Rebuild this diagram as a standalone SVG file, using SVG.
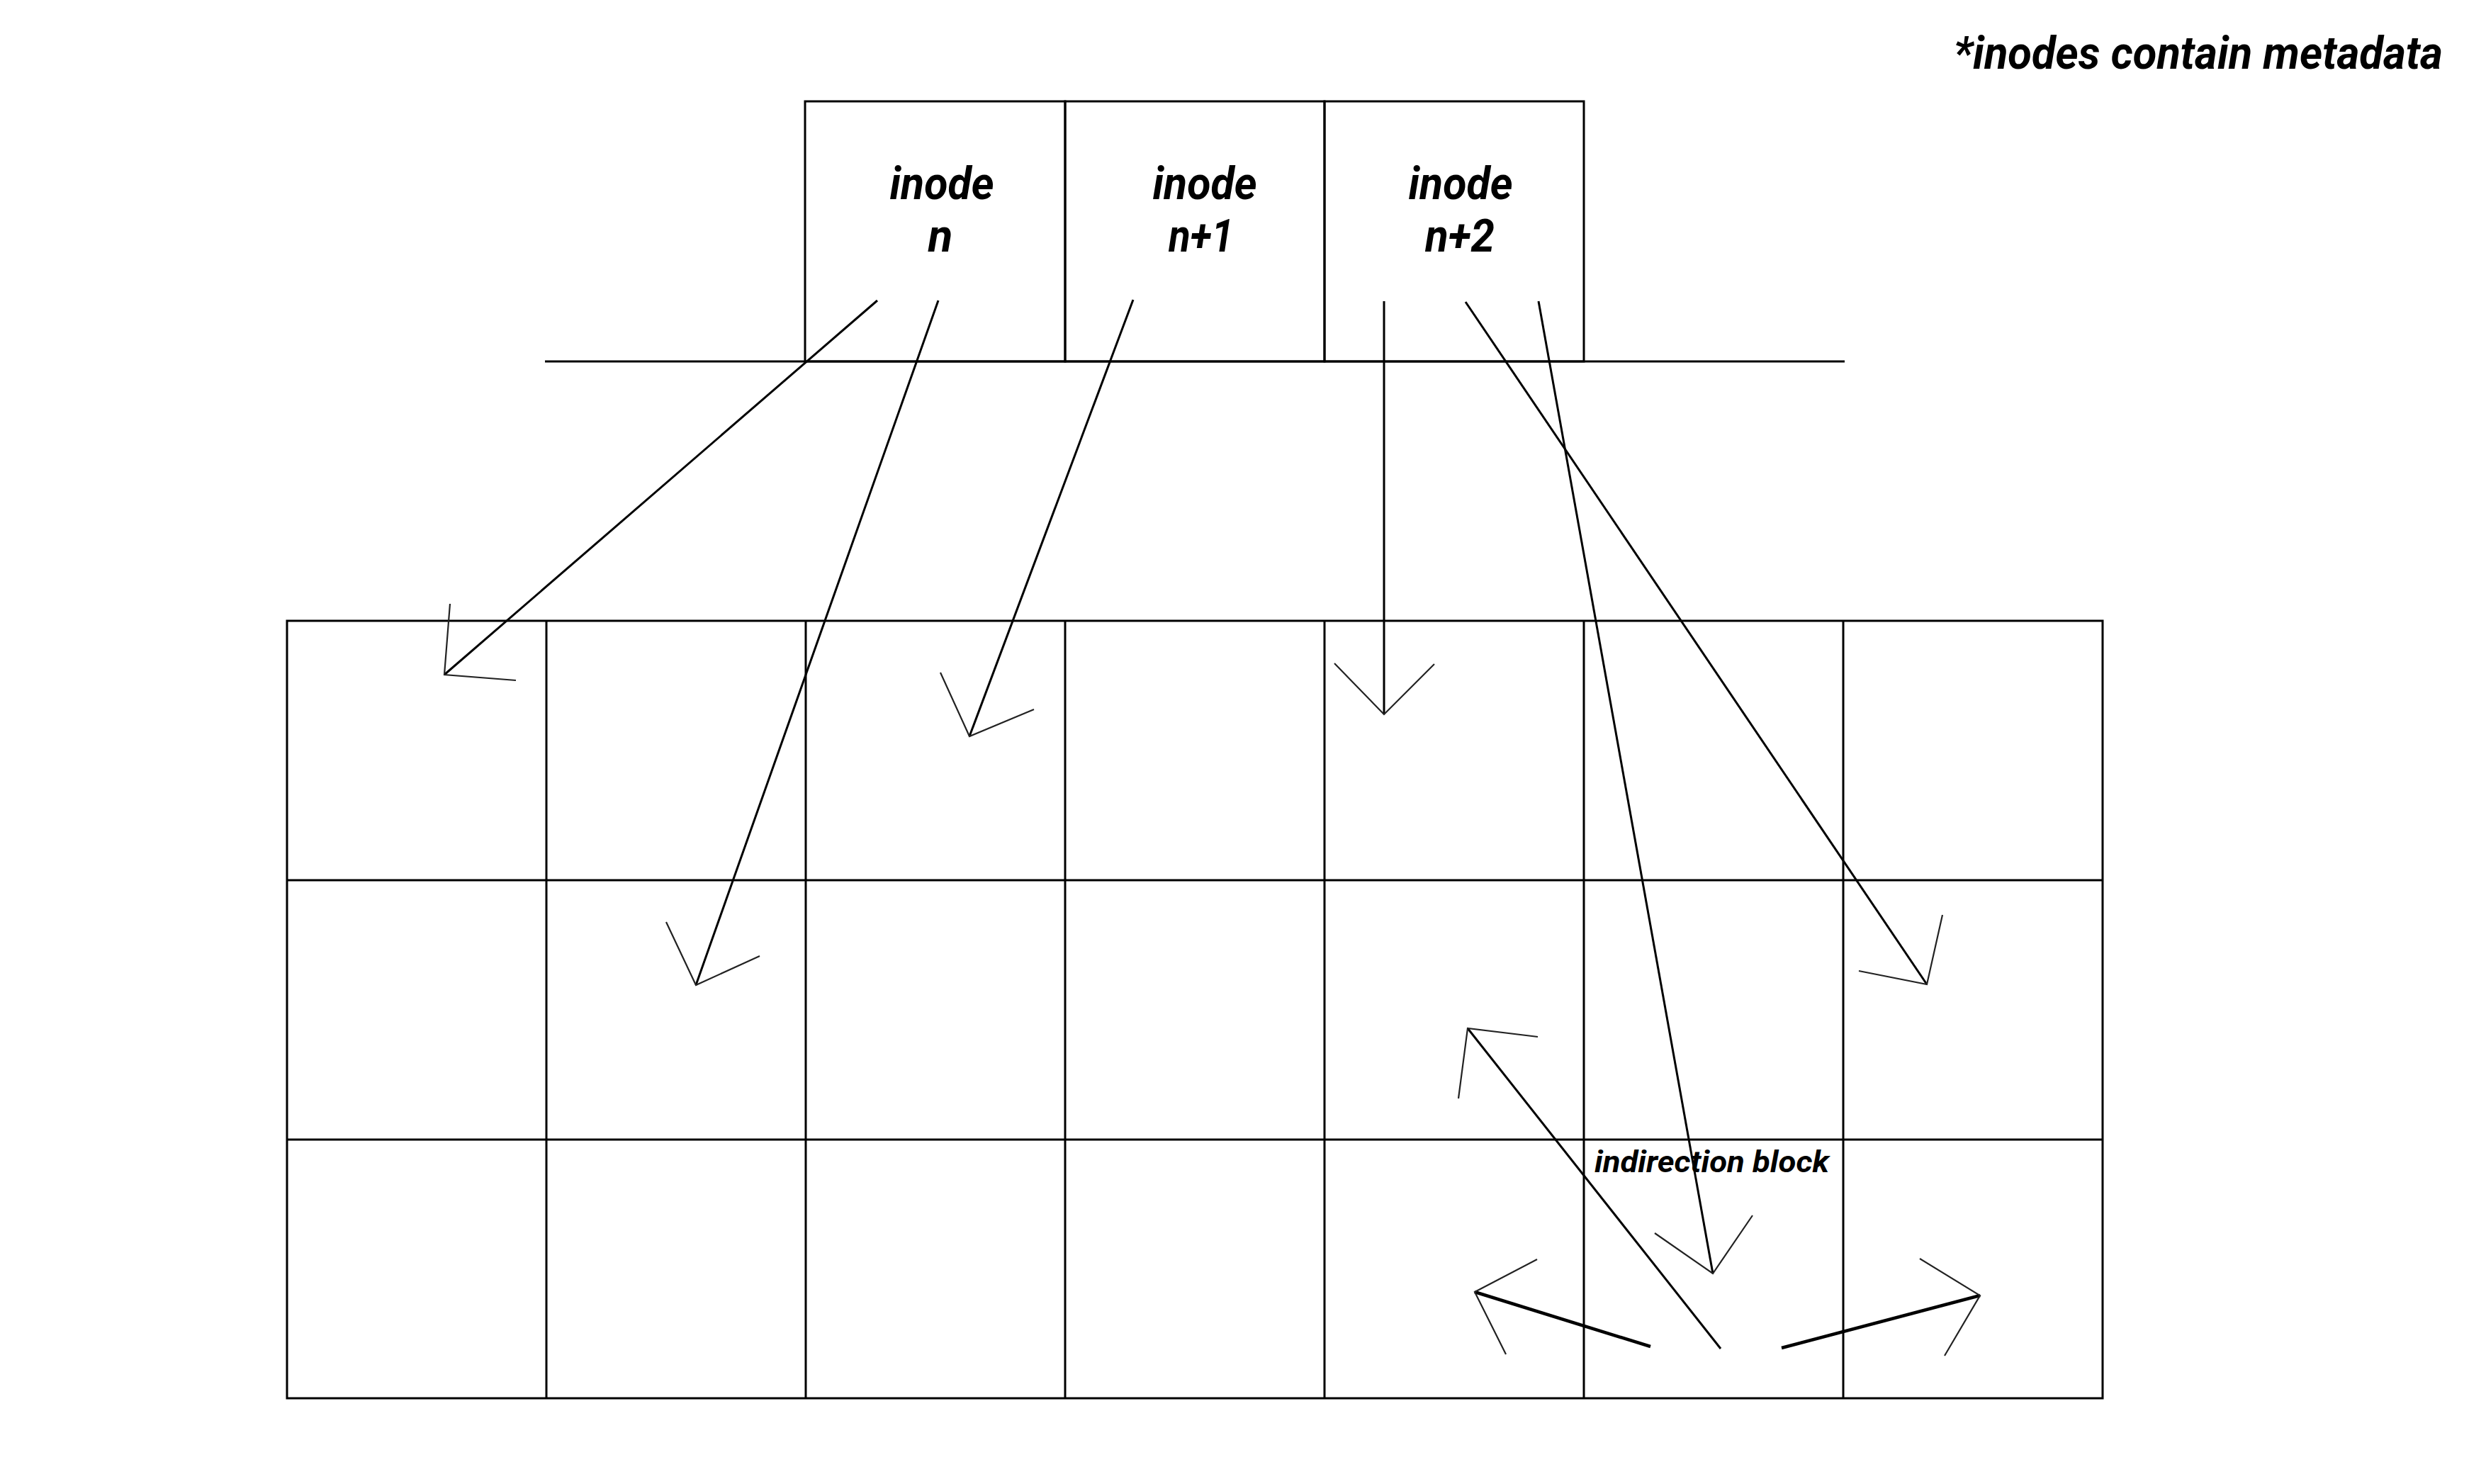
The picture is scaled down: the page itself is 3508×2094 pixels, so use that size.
<svg xmlns="http://www.w3.org/2000/svg" width="3508" height="2094" viewBox="0 0 3508 2094">
<style>
.cell{fill:none;stroke:#000;stroke-width:3}
.ln{fill:none;stroke:#000;stroke-width:3;stroke-linecap:butt}
.thick{stroke-width:4.5}
.hd{fill:none;stroke:#222;stroke-width:2.2;stroke-linejoin:miter}
.lbl{font-family:Roboto,"Liberation Sans",sans-serif;font-weight:bold;font-style:italic;fill:#000}
</style>
<rect width="3508" height="2094" fill="#fff"/>
<text class="lbl" x="2757" y="97" font-size="64" textLength="690" lengthAdjust="spacingAndGlyphs">*inodes contain metadata</text>
<g id="inode-table">
<line class="ln" x1="769" y1="510" x2="2603" y2="510"/>
</g>
<g id="inode-n">
<rect class="cell" x="1136" y="143" width="367" height="367"/>
<text class="lbl" font-size="64" text-anchor="middle"><tspan x="1329" y="281" textLength="147" lengthAdjust="spacingAndGlyphs">inode</tspan><tspan x="1327" y="355">n</tspan></text>
</g>
<g id="inode-n1">
<rect class="cell" x="1503" y="143" width="366" height="367"/>
<text class="lbl" font-size="64" text-anchor="middle"><tspan x="1700" y="281" textLength="147" lengthAdjust="spacingAndGlyphs">inode</tspan><tspan x="1695" y="355" textLength="92" lengthAdjust="spacingAndGlyphs">n+1</tspan></text>
</g>
<g id="inode-n2">
<rect class="cell" x="1869" y="143" width="366" height="367"/>
<text class="lbl" font-size="64" text-anchor="middle"><tspan x="2061" y="281" textLength="147" lengthAdjust="spacingAndGlyphs">inode</tspan><tspan x="2060" y="355" textLength="98" lengthAdjust="spacingAndGlyphs">n+2</tspan></text>
</g>
<g id="blocks">
<rect class="cell" x="405" y="876" width="2562" height="1097"/>
<line class="ln" x1="771" y1="876" x2="771" y2="1973"/>
<line class="ln" x1="1137" y1="876" x2="1137" y2="1973"/>
<line class="ln" x1="1503" y1="876" x2="1503" y2="1973"/>
<line class="ln" x1="1869" y1="876" x2="1869" y2="1973"/>
<line class="ln" x1="2235" y1="876" x2="2235" y2="1973"/>
<line class="ln" x1="2601" y1="876" x2="2601" y2="1973"/>
<line class="ln" x1="405" y1="1242" x2="2967" y2="1242"/>
<line class="ln" x1="405" y1="1608" x2="2967" y2="1608"/>
</g>
<g id="indirection-block">
<text class="lbl" x="2250" y="1654" font-size="43" textLength="331" lengthAdjust="spacingAndGlyphs">indirection block</text>
</g>
<g id="connectors">
<line class="ln" x1="1238" y1="424" x2="627" y2="952"/>
<polyline class="hd" points="635,852 627,952 728,960"/>
<line class="ln" x1="1324" y1="424" x2="982" y2="1390"/>
<polyline class="hd" points="940,1301 982,1390 1072,1349"/>
<line class="ln" x1="1599" y1="423" x2="1368" y2="1039"/>
<polyline class="hd" points="1327,949 1368,1039 1459,1001"/>
<line class="ln" x1="1953" y1="425" x2="1953" y2="1008"/>
<polyline class="hd" points="1883,936 1953,1008 2024,937"/>
<line class="ln" x1="2068" y1="426" x2="2719" y2="1389"/>
<polyline class="hd" points="2741,1291 2719,1389 2623,1370"/>
<line class="ln" x1="2171" y1="425" x2="2417" y2="1797"/>
<polyline class="hd" points="2335,1740 2417,1797 2473,1715"/>
<line class="ln" x1="2428" y1="1903" x2="2071" y2="1451"/>
<polyline class="hd" points="2170,1463 2071,1451 2058,1550"/>
<line class="ln thick" x1="2329" y1="1900" x2="2081" y2="1823"/>
<polyline class="hd" points="2169,1777 2081,1823 2125,1911"/>
<line class="ln thick" x1="2514" y1="1902" x2="2794" y2="1828"/>
<polyline class="hd" points="2709,1776 2794,1828 2744,1913"/>
</g>
</svg>
